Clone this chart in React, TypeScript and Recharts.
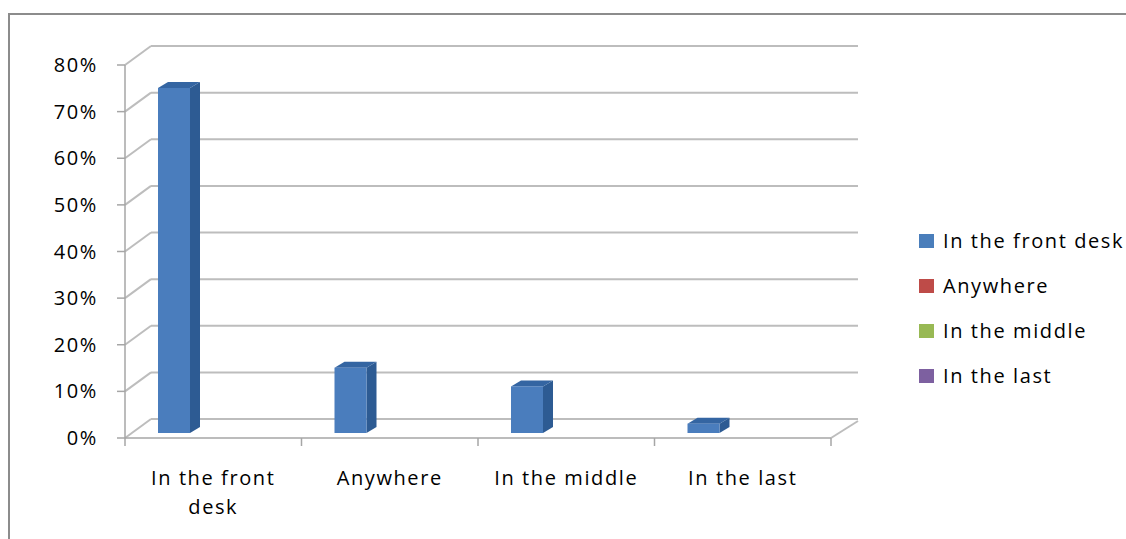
import React from "react";
import { BarChart, Bar, XAxis, YAxis, CartesianGrid, Legend, ReferenceLine } from "recharts";

const categories = ["In the front desk", "Anywhere", "In the middle", "In the last"];
const percentages = [74, 14, 10, 2];
const yTicks = [0, 10, 20, 30, 40, 50, 60, 70, 80];
const legendLabels = ["In the front desk", "Anywhere", "In the middle", "In the last"];
const legendColors = ["#4a7ebb", "#be4b48", "#98b954", "#7d60a0"];

const data = categories.map((c, i) => ({ category: c, value: percentages[i] }));

const W = 1126;
const H = 539;
const DX = 27;
const DY = 19;
const FONT = "'Open Sans', sans-serif";
const FS = 20;
const LS = "1.6px";
const GRID = "#bdbdbd";
const AXIS = "#a6a6a6";
const FRONT = "#4a7dbd";
const SIDE = "#2d5b93";
const TOP = "#3465a2";
const BAR_SHIFT = -39;
const LIFT = 5;
const MAX_CHARS = 13;

const wrapLabel = (s: string): string[] => {
  const words = s.split(" ");
  const lines: string[] = [];
  let cur = "";
  words.forEach((w) => {
    const next = cur ? `${cur} ${w}` : w;
    if (next.length > MAX_CHARS && cur) {
      lines.push(cur);
      cur = w;
    } else {
      cur = next;
    }
  });
  if (cur) lines.push(cur);
  return lines;
};

const backLine = (props: any) => {
  const { x1, y1, x2, y2 } = props;
  return (
    <g key={`h-${y1}`}>
      <line x1={x1} y1={y1} x2={x1 + DX - 1} y2={y1 - DY} stroke={GRID} strokeWidth={2} />
      <line x1={x1 + DX - 1} y1={y1 - DY} x2={x2 + DX} y2={y2 - DY} stroke={GRID} strokeWidth={2} />
    </g>
  );
};

const floorShape = (props: any) => {
  const { x1, y1, x2 } = props;
  const xr = Math.max(x1, x2);
  return (
    <line x1={xr} y1={y1} x2={xr + DX} y2={y1 - DY + 2} stroke={GRID} strokeWidth={2} />
  );
};

function Bar3D(props: any) {
  const { x, y, width, height } = props;
  if (height == null || width == null) return null;
  const fx = x + BAR_SHIFT;
  const fy = y - LIFT;
  const w = width;
  const h = height;
  const d = 10;
  const e = 6;
  return (
    <g>
      <polygon
        points={`${fx + w},${fy} ${fx + w + d},${fy - e} ${fx + w + d},${fy + h - e} ${fx + w},${fy + h}`}
        fill={SIDE}
      />
      <polygon
        points={`${fx},${fy} ${fx + d},${fy - e} ${fx + w + d},${fy - e} ${fx + w},${fy}`}
        fill={TOP}
      />
      <rect x={fx} y={fy} width={w} height={h} fill={FRONT} />
    </g>
  );
}

function XTick(props: any) {
  const { x, y, payload, index } = props;
  const half = payload && typeof payload.offset === "number" && payload.offset > 0 ? payload.offset : 88.25;
  const last = index === categories.length - 1;
  const lines = wrapLabel(String(payload.value));
  return (
    <g>
      <line x1={x - half} y1={y} x2={x - half} y2={y + 8} stroke={AXIS} strokeWidth={1.5} />
      {last && <line x1={x + half} y1={y} x2={x + half} y2={y + 8} stroke={AXIS} strokeWidth={1.5} />}
      <text
        x={x}
        y={y + 47}
        textAnchor="middle"
        fill="#000"
        style={{ fontSize: FS, fontFamily: FONT, letterSpacing: LS }}
      >
        {lines.map((ln, i) => (
          <tspan key={i} x={x} dy={i === 0 ? 0 : 29}>
            {ln}
          </tspan>
        ))}
      </text>
    </g>
  );
}

const renderLegend = () => (
  <div style={{ fontFamily: FONT, fontSize: FS, letterSpacing: LS, color: "#000", whiteSpace: "nowrap" }}>
    {legendLabels.map((l, i) => (
      <div key={l} style={{ display: "flex", alignItems: "center", height: 45 }}>
        <span
          style={{ display: "inline-block", width: 15, height: 14, background: legendColors[i], marginRight: 9 }}
        />
        {l}
      </div>
    ))}
  </div>
);

export default function App() {
  return (
    <div style={{ position: "relative", width: W, height: H, overflow: "hidden", background: "#fff" }}>
      <style>{`html,body{margin:0;padding:0;overflow:hidden;background:#fff}`}</style>
      <div
        style={{
          position: "absolute",
          left: 8,
          top: 13,
          width: 1300,
          height: 700,
          borderLeft: "2px solid #8c8c8c",
          borderTop: "2px solid #8c8c8c",
          boxSizing: "border-box",
        }}
      />
      <BarChart
        width={W}
        height={H}
        data={data}
        margin={{ top: 65, right: 295, bottom: 11, left: 65 }}
      >
        <CartesianGrid vertical={false} horizontal={backLine} />
        <XAxis
          dataKey="category"
          height={90}
          interval={0}
          tickLine={false}
          tickSize={0}
          tickMargin={0}
          axisLine={{ stroke: AXIS, strokeWidth: 1.5 }}
          tick={<XTick />}
        />
        <YAxis
          width={60}
          domain={[0, 80]}
          ticks={yTicks}
          interval={0}
          tickFormatter={(v: number) => `${v}%`}
          tickSize={8}
          tickMargin={19}
          axisLine={{ stroke: AXIS, strokeWidth: 1.5 }}
          tickLine={{ stroke: AXIS, strokeWidth: 1.5 }}
          tick={{ fill: "#000", fontSize: FS, fontFamily: FONT, letterSpacing: LS }}
        />
        <ReferenceLine y={0} shape={floorShape} />
        <Bar dataKey="value" barSize={32} shape={Bar3D} isAnimationActive={false} />
        <Legend
          layout="horizontal"
          verticalAlign="middle"
          align="center"
          content={renderLegend}
          wrapperStyle={{ left: 919, top: 218, width: 207 }}
        />
      </BarChart>
    </div>
  );
}
